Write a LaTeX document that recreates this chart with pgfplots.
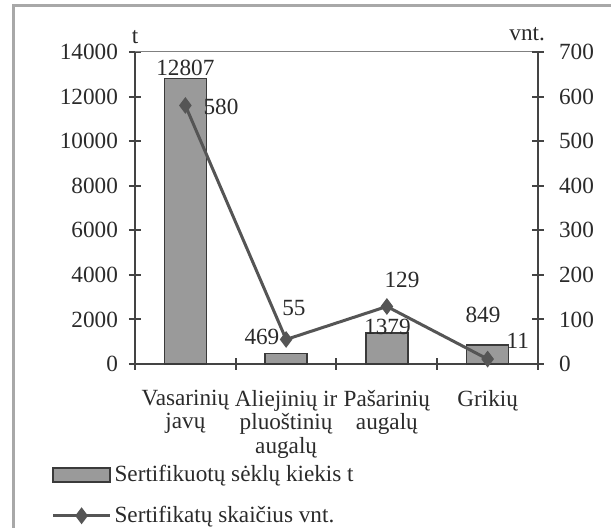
\documentclass[border=0pt]{standalone}
\usepackage{fontspec}
\setmainfont{Liberation Serif}
\usepackage{pgfplots}
\pgfplotsset{compat=1.18}
\definecolor{barfill}{HTML}{9A9A9A}
\definecolor{barline}{HTML}{3A3A3A}
\definecolor{axline}{HTML}{444444}
\definecolor{serline}{HTML}{555555}
\definecolor{txt}{HTML}{2A2A2A}
\definecolor{frame}{HTML}{A8A8A8}
\begin{document}
\fontsize{11.6}{12}\selectfont
\begin{tikzpicture}
\useasboundingbox (0,0) rectangle (305.5pt,264pt);
\draw[frame, line width=1.5pt] (6.75pt,0pt) -- (6.75pt,261.25pt) -- (305.5pt,261.25pt);
\begin{axis}[
  at={(67.5pt,82pt)}, anchor=south west,
  scale only axis, width=201.5pt, height=156pt,
  xmin=-0.5, xmax=3.5, ymin=0, ymax=14000,
  axis y line*=left, axis x line*=bottom,
  axis line style={axline, line width=1pt},
  x axis line style={-}, y axis line style={-},
  xtick={-0.5,0.5,1.5,2.5,3.5}, xticklabels={},
  extra x ticks={0,1,2,3},
  extra x tick labels={Vasarinių\\javų, Aliejinių ir\\pluoštinių\\augalų, Pašarinių\\augalų, Grikių},
  extra x tick style={major tick length=0pt, tick label style={align=center, text=txt, font=\fontsize{11.6}{11.75}\selectfont, yshift=-9pt}},
  ytick={0,2000,...,14000},
  scaled y ticks=false,
  yticklabel style={/pgf/number format/1000 sep={}, text=txt, xshift=-1.5pt},
  /pgf/number format/assume math mode=true,
  tick align=center, major tick length=6pt,
  tick style={axline, line width=1pt},
  ylabel={t}, ylabel style={rotate=-90, at={(rel axis cs:0,1)}, anchor=south, text=txt},
  clip=false,
]
\draw[gray, line width=0.5pt] (rel axis cs:0,1) -- (rel axis cs:1,1);
\addplot[ybar, bar width=21pt, fill=barfill, draw=barline, line width=0.8pt] coordinates {(0,12807) (1,469) (2,1379) (3,849)};
\node[txt] at (axis cs:0,13282) {12807};
\node[txt] at (axis cs:0.76,1211) {469};
\node[txt] at (axis cs:2.006,1660) {1379};
\node[txt] at (axis cs:2.954,2199) {849};
\end{axis}
\begin{axis}[
  at={(67.5pt,82pt)}, anchor=south west,
  scale only axis, width=201.5pt, height=156pt,
  xmin=-0.5, xmax=3.5, ymin=0, ymax=700,
  axis y line*=right, axis x line=none,
  axis line style={axline, line width=1pt},
  y axis line style={-},
  ytick={0,100,...,700},
  yticklabel style={text=txt, xshift=3.5pt},
  /pgf/number format/assume math mode=true,
  tick align=center, major tick length=6pt,
  tick style={axline, line width=1pt},
  ylabel={vnt.}, ylabel style={rotate=-90, at={(rel axis cs:1,1)}, anchor=south east, text=txt, xshift=7.5pt, yshift=1.5pt},
  clip=false,
  legend style={draw=none, fill=none, at={(-0.208,-0.313)}, anchor=north west, row sep=7.5pt, text=txt, inner sep=0pt, nodes={inner sep=1.5pt}},
  legend cell align=left,
]
\addlegendimage{legend image code/.code={\draw[fill=barfill, draw=barline, line width=0.8pt] (0pt,-3.5pt) rectangle (28.5pt,3.5pt);}}
\addlegendentry{Sertifikuotų sėklų kiekis t}
\addplot[serline, line width=1.5pt, mark=diamond*, mark size=3.8pt, mark options={fill=serline, draw=serline, line width=0.5pt},
  legend image code/.code={\draw[serline, line width=1.5pt] (0pt,0pt) -- (28.5pt,0pt); \fill[serline] (14.25pt,3pt) -- (16.5pt,0pt) -- (14.25pt,-3pt) -- (12pt,0pt) -- cycle;}]
  coordinates {(0,580) (1,55) (2,129) (3,11)};
\addlegendentry{Sertifikatų skaičius vnt.}
\node[txt] at (axis cs:0.354,576.6) {580};
\node[txt] at (axis cs:1.078,125.6) {55};
\node[txt] at (axis cs:2.15,188.5) {129};
\node[txt] at (axis cs:3.30,51.6) {11};
\end{axis}
\end{tikzpicture}
\end{document}
